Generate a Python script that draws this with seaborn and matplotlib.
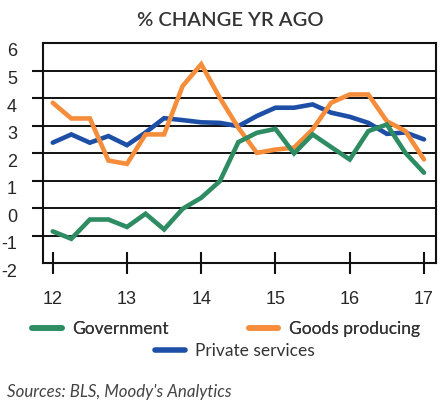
import numpy as np
import pandas as pd
import matplotlib
matplotlib.use("Agg")
import matplotlib.pyplot as plt
import matplotlib.transforms as mtransforms
from matplotlib.lines import Line2D
import seaborn as sns

# ---- data (quarterly, 2012Q1 .. 2017Q1) ----
quarters = [12 + i / 4 for i in range(21)]
government = [-0.84, -1.11, -0.41, -0.41, -0.68, -0.20, -0.77, -0.02, 0.38, 0.98,
              2.40, 2.74, 2.88, 1.99, 2.68, 2.22, 1.77, 2.80, 3.04, 2.01, 1.29]
goods_producing = [3.83, 3.26, 3.26, 1.73, 1.61, 2.68, 2.68, 4.44, 5.23, 4.01,
                   2.92, 2.01, 2.13, 2.20, 2.86, 3.83, 4.13, 4.13, 3.16, 2.80, 1.77]
private_services = [2.38, 2.68, 2.38, 2.62, 2.29, 2.75, 3.27, 3.20, 3.12, 3.10,
                    2.98, 3.35, 3.65, 3.65, 3.77, 3.47, 3.32, 3.10, 2.70, 2.75, 2.50]
series_names = ["Government", "Goods producing", "Private services"]
x_ticks = [12, 13, 14, 15, 16, 17]
y_ticks = [-2, -1, 0, 1, 2, 3, 4, 5, 6]
title = "% CHANGE YR AGO"
source = "Sources: BLS, Moody's Analytics"

colors = {"Government": "#2E8C62", "Goods producing": "#F68D3A", "Private services": "#1E4FA6"}

df = pd.DataFrame({
    "t": quarters * 3,
    "value": government + goods_producing + private_services,
    "series": [series_names[0]] * 21 + [series_names[1]] * 21 + [series_names[2]] * 21,
})

sns.set_style("white")
fig = plt.figure(figsize=(4.42, 4.03), dpi=100)
ax = fig.add_axes([43.3 / 442, 1 - 263.3 / 403, (436 - 43.3) / 442, (263.3 - 43) / 403])

draw_order = ["Private services", "Goods producing", "Government"]
sns.lineplot(data=df, x="t", y="value", hue="series", hue_order=draw_order,
             palette=colors, linewidth=3.3, legend=False, ax=ax,
             solid_joinstyle="miter")

ax.set_xlim(11.873, 17.162)
ax.set_ylim(-2, 6)
ax.set_xlabel("")
ax.set_ylabel("")

# gridlines
for y in range(-1, 6):
    ax.axhline(y, color="#111111", linewidth=1.4, zorder=0.5)

for sp in ax.spines.values():
    sp.set_visible(True)
    sp.set_color("#111111")
    sp.set_linewidth(1.5)

ax.set_xticks(x_ticks)
ax.set_xticklabels([str(v) for v in x_ticks], fontfamily="Liberation Sans", fontsize=13)
ax.set_yticks(y_ticks)
ax.set_yticklabels([str(v) for v in y_ticks], fontfamily="Liberation Sans", fontsize=13)
ax.tick_params(axis="x", direction="inout", length=16, width=1.5, color="#111111",
               pad=12, bottom=True)
ax.tick_params(axis="y", direction="out", length=8, width=1.5, color="#111111",
               pad=11, left=True)
for tk in ax.yaxis.get_major_ticks():
    if tk.get_loc() in (-2, 6):
        tk.tick1line.set_visible(False)
offset = mtransforms.ScaledTranslation(0, -7 / 100, fig.dpi_scale_trans)
for lab in ax.get_yticklabels():
    lab.set_transform(lab.get_transform() + offset)

fig.text(230 / 442, 1 - 20 / 403, title, ha="center", va="center",
         fontfamily="Lato", fontsize=14.5, color="#333333", fontweight="semibold")

# legend
def handle(name):
    return Line2D([0], [0], color=colors[name], linewidth=4.0)

leg_kw = dict(frameon=False, prop={"family": "Lato", "size": 12.5}, handlelength=1.7,
              handletextpad=0.6, labelcolor="#333333")
leg1 = fig.legend([handle("Government"), handle("Goods producing")],
                  ["Government", "Goods producing"], ncol=2, columnspacing=4.6,
                  loc="center", bbox_to_anchor=(226 / 442, 1 - 329 / 403), **leg_kw)
fig.legend([handle("Private services")], ["Private services"],
           loc="center", bbox_to_anchor=(235 / 442, 1 - 351 / 403), **leg_kw)
fig.add_artist(leg1)

fig.text(7 / 442, 1 - 392 / 403, source, ha="left", va="center",
         fontfamily="Lato", fontstyle="italic", fontsize=12.2, color="#444444")

fig.savefig("out.png", dpi=100)
